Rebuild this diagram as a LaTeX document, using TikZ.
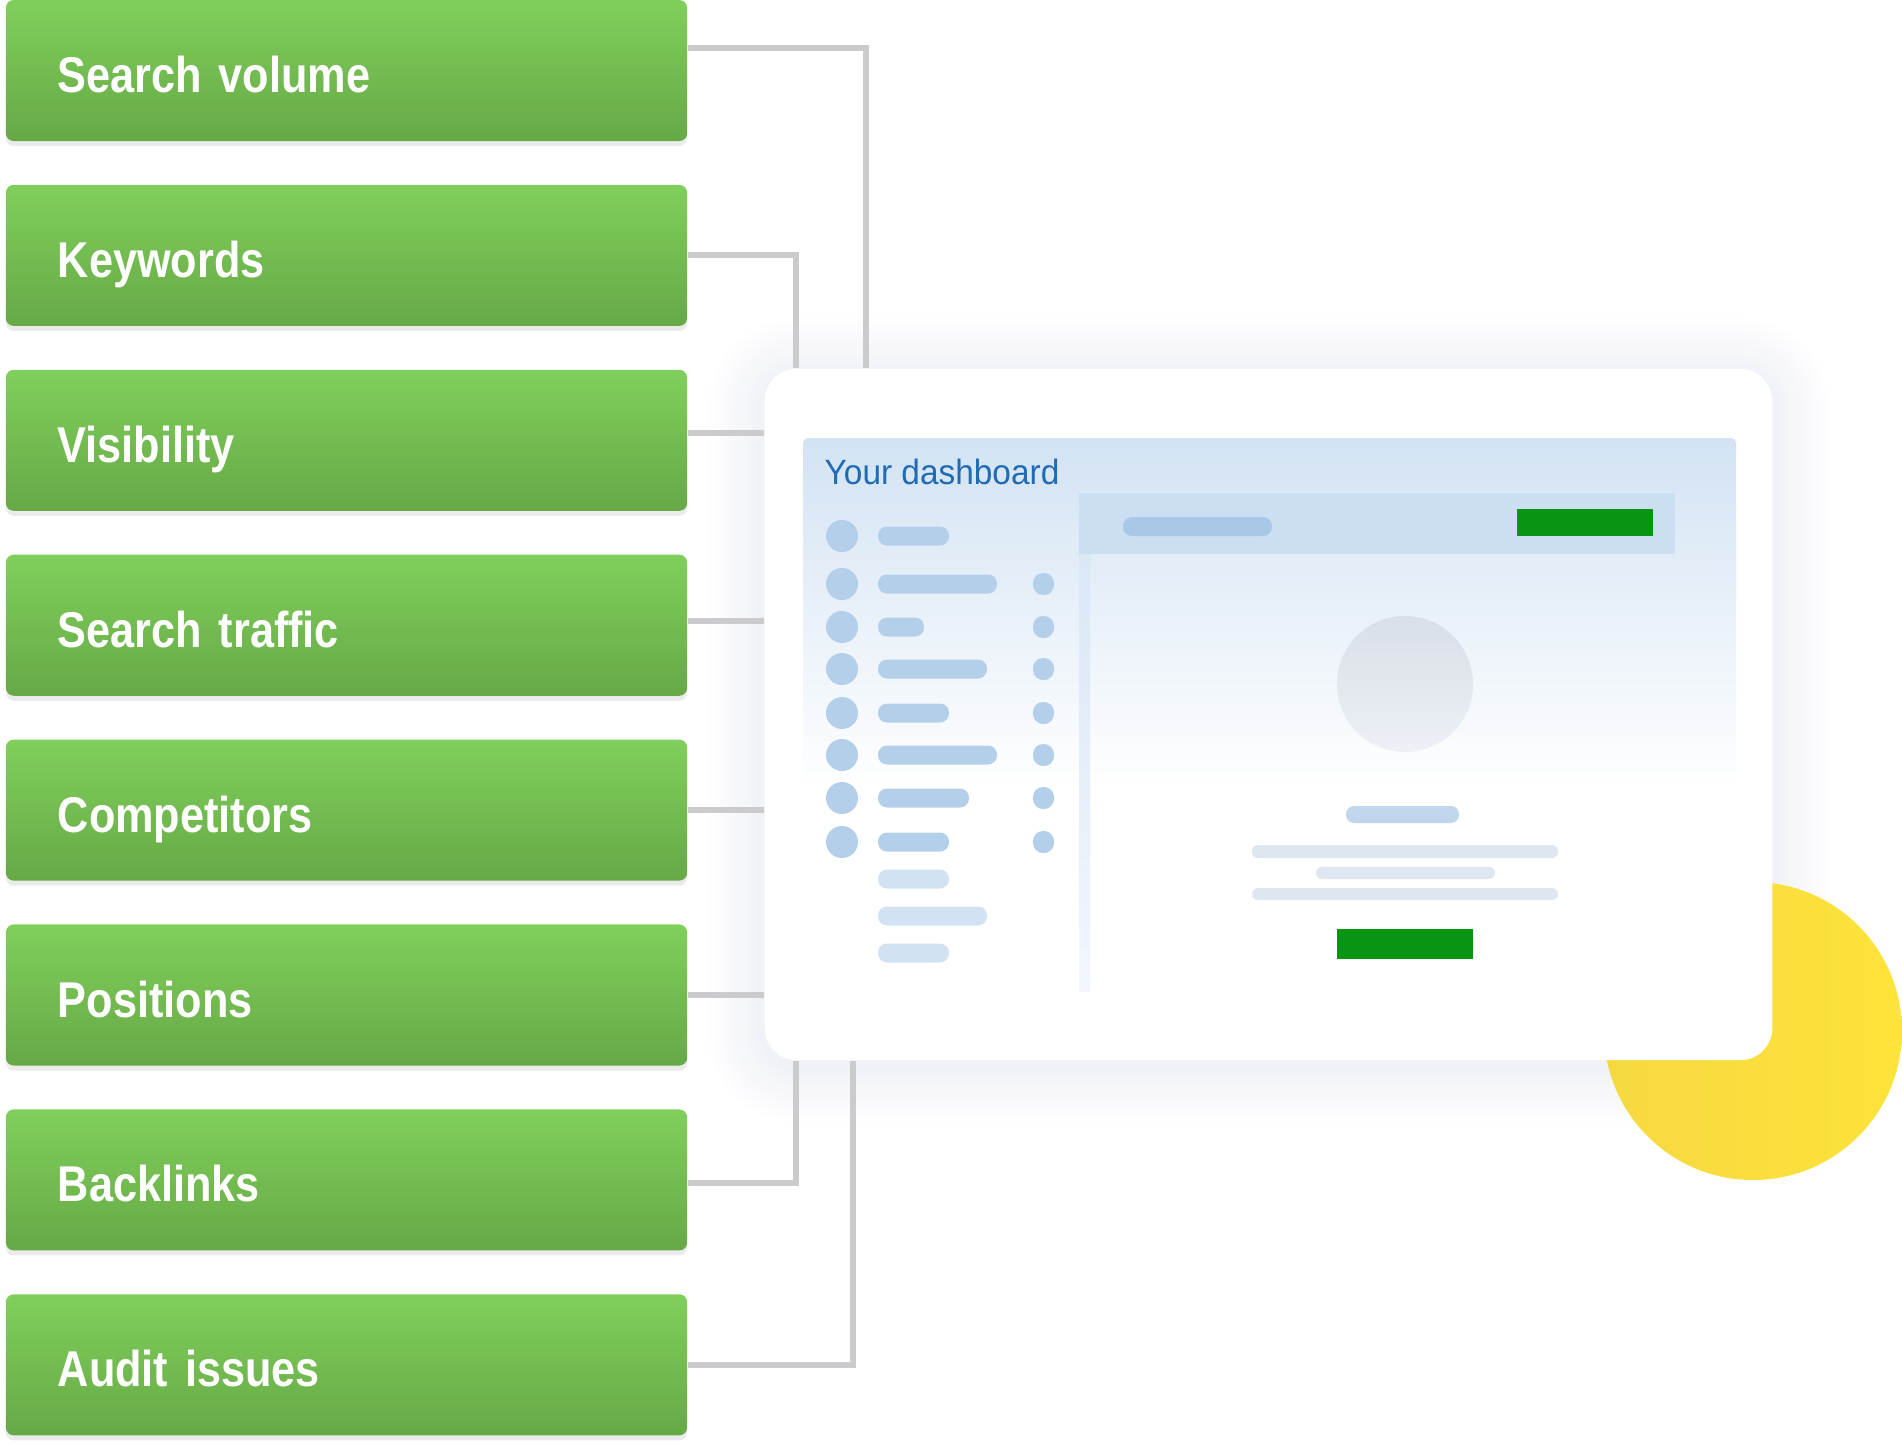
\documentclass[tikz,border=0pt]{standalone}
\usepackage{fontspec}
\usetikzlibrary{calc}
\newfontfamily\boxfont[FakeStretch=0.86, WordSpace=0.6]{Liberation Sans}
\newfontfamily\dashfont[FakeStretch=0.95]{Liberation Sans}

\definecolor{boxTop}{HTML}{80CF5C}
\definecolor{boxMid}{HTML}{79C555}
\definecolor{boxBot}{HTML}{66A946}
\definecolor{linkGray}{HTML}{CBCBCE}
\definecolor{haze}{HTML}{A8AFCE}
\definecolor{dashTop}{HTML}{D3E3F3}
\definecolor{headBlue}{HTML}{CCDEF1}
\definecolor{stripTop}{HTML}{DAE7F5}
\definecolor{stripBot}{HTML}{F3F6FD}
\definecolor{dotBlue}{HTML}{B4CFEA}
\definecolor{headBar}{HTML}{A9C7E6}
\definecolor{barPale}{HTML}{D2E2F2}
\definecolor{avatar}{HTML}{E1E7F0}
\definecolor{lineGray}{HTML}{DEE6F0}
\definecolor{okGreen}{HTML}{0A9414}
\definecolor{titleBlue}{HTML}{1F6CB4}
\definecolor{sunA}{HTML}{F6D941}
\definecolor{sunB}{HTML}{FDE33A}

\pgfdeclarelayer{bg}
\pgfsetlayers{bg,main}

\begin{document}
\begin{tikzpicture}[
		x=0.01cm, y=-0.01cm,
		feature/.style={rounded corners=0.08cm, minimum width=6.81cm, minimum height=1.41cm,
			inner xsep=0.52cm, text width=5.77cm, align=left, text height=0.44cm, text depth=0cm,
			top color=boxTop, middle color=boxMid, bottom color=boxBot,
			text=white, font=\boxfont\bfseries\fontsize{14.3}{16}\selectfont,
			preaction={fill=black, opacity=0.08, transform canvas={yshift=-0.05cm}}},
		link/.style={draw=linkGray, line width=1.7pt},
		card/.style={fill=white, rounded corners=0.32cm, minimum width=10.07cm,
			minimum height=6.91cm, inner sep=0pt}
	]
		\useasboundingbox (0,0) rectangle (1902,1444);
		
		% Feature boxes
		\node[feature] (vol) at (346.5,70.5) {Search volume};
		\node[feature] (kw) at (346.5,255.4) {Keywords};
		\node[feature] (vis) at (346.5,440.3) {Visibility};
		\node[feature] (traf) at (346.5,625.2) {Search traffic};
		\node[feature] (comp) at (346.5,810.1) {Competitors};
		\node[feature] (pos) at (346.5,995) {Positions};
		\node[feature] (back) at (346.5,1179.9) {Backlinks};
		\node[feature] (audit) at (346.5,1364.8) {Audit issues};
		
		% Dashboard card
		\node[card] (card) at (1268.5,714.5) {};
		
		\begin{pgfonlayer}{bg}
			% Soft shadow of the card
			\foreach \s [evaluate=\s as \rr using 0.32+0.04*\s] in {1,...,14}
				\fill[haze, opacity=0.012, rounded corners=\rr cm]
					($(card.north west)+(-4*\s,-4*\s+6)$) rectangle ($(card.south east)+(4*\s,4*\s+6)$);
			
			% Yellow disc
			\shade[left color=sunA, right color=sunB] (1753,1031) circle (149);
			
			% Connectors
			\draw[link] (vol.east |- 0,48) -| (card.north -| 866,0);
			\draw[link] (kw.east) -| (card.north -| 796,0);
			\draw[link] (vis.east |- 0,433) -- (card.west |- 0,433);
			\draw[link] (traf.east |- 0,621) -- (card.west |- 0,621);
			\draw[link] (comp.east) -- (card.west |- comp.east);
			\draw[link] (pos.east) -- (card.west |- pos.east);
			\draw[link] (back.east |- 0,1183) -| (card.south -| 796,0);
			\draw[link] (audit.east) -| (card.south -| 853,0);
		\end{pgfonlayer}
		
		% Dashboard panel
		\shade[top color=dashTop, bottom color=white, rounded corners=0.05cm] (803,438) rectangle (1736,790);
		\node[anchor=base west, inner sep=0pt, text=titleBlue,
			font=\dashfont\fontsize{10}{12}\selectfont] (title) at (824,484) {Your dashboard};
		\fill[headBlue] (1079,493) rectangle (1675,554);
		\shade[top color=stripTop, bottom color=stripBot] (1079,554) rectangle (1090,991);
		\fill[headBar, rounded corners=0.09cm] (1123,517) rectangle (1272,536);
		\fill[okGreen] (1517,509) rectangle (1653,536);
		
		% List rows
		\foreach \y/\e in {536/949, 584/997, 627/924, 669/987, 713/949, 755/997, 798/969, 842/949} {
			\fill[dotBlue] (842,\y) circle (16);
			\fill[dotBlue, rounded corners=0.09cm] (878,\y-9.5) rectangle (\e,\y+9.5);
		}
		\foreach \y in {584,627,669,713,755,798,842}
			\fill[dotBlue, rounded corners=0.1cm] (1033,\y-11) rectangle (1054,\y+11);
		\foreach \y/\e in {879/949, 916/987, 953/949}
			\fill[barPale, rounded corners=0.09cm] (878,\y-9.5) rectangle (\e,\y+9.5);
		
		% Profile block
		\shade[top color=avatar!95!black!70!avatar, bottom color=avatar!60] (1405,684) circle (68);
		\fill[dotBlue!85, rounded corners=0.08cm] (1346,806) rectangle (1459,823);
		\fill[lineGray, rounded corners=0.06cm] (1252,845) rectangle (1558,858);
		\fill[lineGray, rounded corners=0.06cm] (1316,867) rectangle (1495,879);
		\fill[lineGray, rounded corners=0.06cm] (1252,888) rectangle (1558,900);
		\fill[okGreen] (1337,929) rectangle (1473,959);
	\end{tikzpicture}
\end{document}
